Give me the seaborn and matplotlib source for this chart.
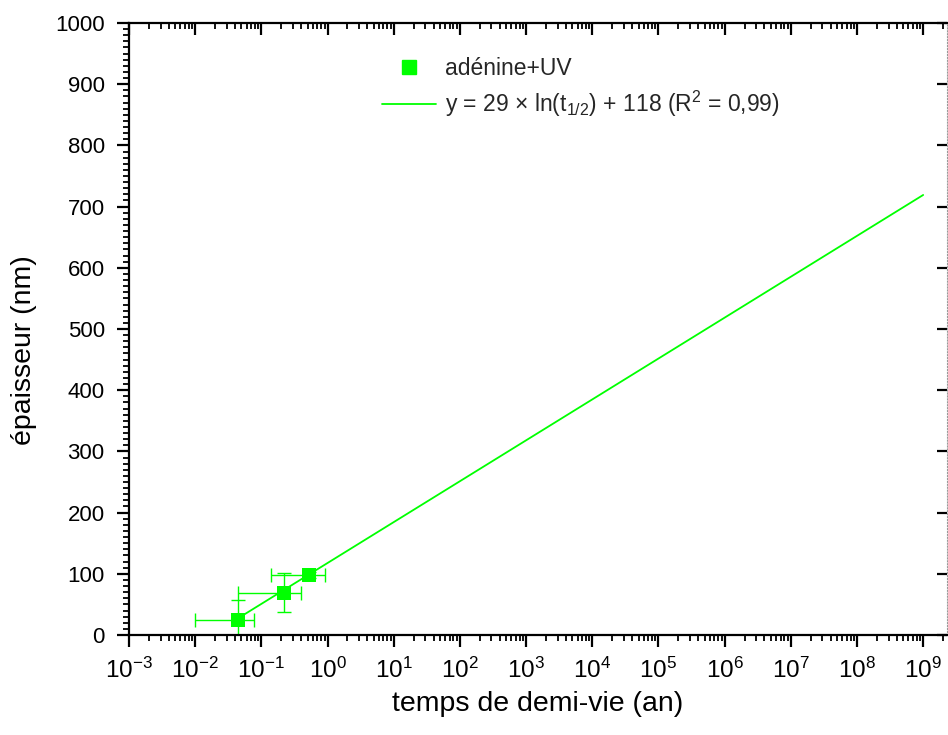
import matplotlib
matplotlib.use("Agg")
import numpy as np
import pandas as pd
import seaborn as sns
import matplotlib.pyplot as plt
from matplotlib.ticker import LogLocator, MultipleLocator, LogFormatterMathtext, NullFormatter, FixedLocator
from matplotlib.lines import Line2D

# ---- data ----
half_life = [0.044, 0.22, 0.52]          # t1/2 (an)
thickness = [25, 69, 98]                 # épaisseur (nm)
half_life_err = [0.034, 0.175, 0.38]
thickness_err = [32, 32, 5]
fit_t = [0.044, 1e9]                     # fit line end points
fit_y = [27, 719]
x_tick_values = [10.0 ** k for k in range(-3, 10)]
y_tick_values = list(range(0, 1001, 100))
series_label = "adénine+UV"
fit_label = r"y = 29 $\times$ ln(t$_{1/2}$) + 118 (R$^2$ = 0,99)"
x_label = "temps de demi-vie (an)"
y_label = "épaisseur (nm)"

GREEN = "#00ff00"

sns.set_theme(style="ticks")
plt.rcParams["font.family"] = ["Liberation Sans", "DejaVu Sans"]
plt.rcParams["mathtext.fontset"] = "custom"
plt.rcParams["mathtext.rm"] = "Liberation Sans"
plt.rcParams["mathtext.it"] = "Liberation Sans:italic"
plt.rcParams["mathtext.bf"] = "Liberation Sans:bold"

fig = plt.figure(figsize=(9.48, 7.35), dpi=100)
ax = fig.add_axes([129 / 948, 1 - 635 / 735, (947 - 129) / 948, (635 - 23) / 735])

pts = pd.DataFrame({"t": half_life, "e": thickness})
fit = pd.DataFrame({"t": fit_t, "e": fit_y})

ax.errorbar(half_life, thickness, xerr=half_life_err, yerr=thickness_err,
            fmt="none", ecolor=GREEN, elinewidth=1.0, capsize=5, capthick=1.0, zorder=2)
sns.lineplot(data=fit, x="t", y="e", color=GREEN, linewidth=1.3, ax=ax, zorder=3, legend=False)
sns.scatterplot(data=pts, x="t", y="e", marker="s", s=100, color=GREEN, edgecolor=GREEN,
                linewidth=0, ax=ax, zorder=4, legend=False)

ax.set_xscale("log")
ax.set_xlim(1e-3, 10 ** 9.36)
ax.set_ylim(0, 1000)

ax.xaxis.set_major_locator(FixedLocator(x_tick_values))
ax.xaxis.set_major_formatter(LogFormatterMathtext())
ax.xaxis.set_minor_locator(LogLocator(base=10, subs=np.arange(2, 10), numticks=100))
ax.xaxis.set_minor_formatter(NullFormatter())
ax.yaxis.set_major_locator(FixedLocator(y_tick_values))
ax.yaxis.set_minor_locator(MultipleLocator(10))

for s in ["left", "bottom", "top"]:
    ax.spines[s].set_linewidth(1.6)
    ax.spines[s].set_color("black")
ax.spines["right"].set_linewidth(0.8)
ax.spines["right"].set_color("#999999")
ax.spines["right"].set_linestyle(":")

ax.tick_params(axis="both", which="major", direction="out", length=8.5, width=1.6,
               color="black", labelcolor="black")
ax.tick_params(axis="x", which="major", labelsize=17.5, pad=8)
ax.tick_params(axis="y", which="major", labelsize=16, pad=9)
ax.tick_params(axis="both", which="minor", direction="out", length=4.5, width=1.3, color="black")
ax.tick_params(top=False, right=False, which="both")

# mirrored ticks pointing inward on top / right
top = ax.secondary_xaxis("top")
top.xaxis.set_major_locator(FixedLocator(x_tick_values))
top.xaxis.set_minor_locator(LogLocator(base=10, subs=np.arange(2, 10), numticks=100))
top.xaxis.set_major_formatter(NullFormatter())
top.xaxis.set_minor_formatter(NullFormatter())
top.tick_params(which="major", direction="in", length=8.5, width=1.6, color="black")
top.tick_params(which="minor", direction="in", length=4.5, width=1.3, color="black")
top.spines["top"].set_visible(False)

right = ax.secondary_yaxis("right")
right.yaxis.set_major_locator(FixedLocator(y_tick_values))
right.yaxis.set_minor_locator(FixedLocator([]))
right.yaxis.set_major_formatter(NullFormatter())
right.tick_params(which="major", direction="in", length=7, width=1.6, color="black")
right.spines["right"].set_visible(False)

ax.set_xlabel(x_label, fontsize=20.5, labelpad=6, color="black")
ax.set_ylabel(y_label, fontsize=20.5, color="black")
ax.yaxis.set_label_coords(-0.113, (635 - 350) / 612)

handles = [
    Line2D([], [], marker="s", linestyle="none", color=GREEN, markersize=10),
    Line2D([], [], color=GREEN, linewidth=1.3),
]
ax.legend(handles, [series_label, fit_label], loc="upper left",
          bbox_to_anchor=((382 - 129) / 818, (635 - 57) / 612), frameon=False,
          fontsize=16.5, handlelength=2.35, handletextpad=0.4, labelspacing=0.4,
          borderpad=0, borderaxespad=0)

fig.savefig("out.png", dpi=100)
